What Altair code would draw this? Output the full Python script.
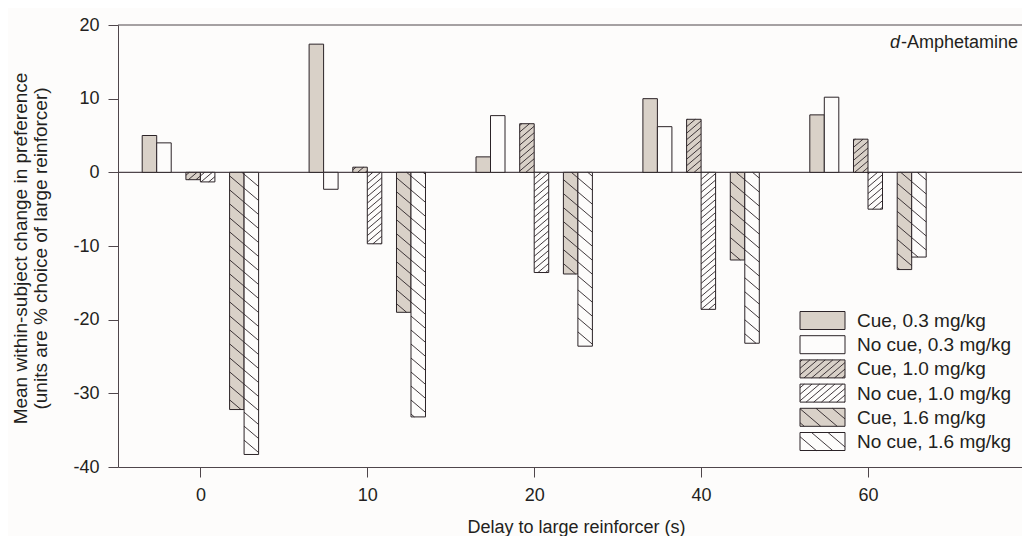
import math
import altair as alt
import pandas as pd

# ---------------- data ----------------
delays = ["0", "10", "20", "40", "60"]
series = ["Cue, 0.3 mg/kg", "No cue, 0.3 mg/kg", "Cue, 1.0 mg/kg",
          "No cue, 1.0 mg/kg", "Cue, 1.6 mg/kg", "No cue, 1.6 mg/kg"]
cue_03 = [5.0, 17.4, 2.1, 10.0, 7.8]
nocue_03 = [4.0, -2.3, 7.7, 6.2, 10.2]
cue_10 = [-1.0, 0.7, 6.6, 7.2, 4.5]
nocue_10 = [-1.3, -9.7, -13.6, -18.6, -5.0]
cue_16 = [-32.2, -19.0, -13.8, -11.9, -13.2]
nocue_16 = [-38.3, -33.2, -23.6, -23.2, -11.5]
y_ticks = [-40, -30, -20, -10, 0, 10, 20]
values = [cue_03, nocue_03, cue_10, nocue_10, cue_16, nocue_16]

# ---------------- layout / style ----------------
W, H = 904, 442
X_DOM = [-0.4937, 4.9227]
Y_DOM = [-40, 20]
BAR_W = 0.0869
PAIR_OFF = 0.2618
FONT = "Liberation Sans"
AX = "#4f464b"
INK = "#2b2327"
TXT = "#231f20"
BG = "#fdfcfb"
CUE_FILL = "#d9d1c8"
NOCUE_FILL = "#fdfcfb"
HATCH = [None, None, ("/", 6.5), ("/", 6.5), ("\\", 14.0), ("\\", 14.0)]
SLOPE = 0.85


def px_x(x):
    return (x - X_DOM[0]) / (X_DOM[1] - X_DOM[0]) * W


def px_y(y):
    return (Y_DOM[1] - y) / (Y_DOM[1] - Y_DOM[0]) * H


def dx(p):
    return X_DOM[0] + p / W * (X_DOM[1] - X_DOM[0])


def dy(p):
    return Y_DOM[1] - p / H * (Y_DOM[1] - Y_DOM[0])


def hatch(a, b, top, bot, kind, sp, s=SLOPE):
    segs = []
    if kind == "/":
        cmin, cmax = s * a + top, s * b + bot
        for k in range(math.ceil(cmin / sp), math.floor(cmax / sp) + 1):
            c = k * sp
            xa = max(a, (c - bot) / s)
            xb = min(b, (c - top) / s)
            if xb - xa > 0.4:
                segs.append((xa, c - s * xa, xb, c - s * xb))
    else:
        cmin, cmax = top - s * b, bot - s * a
        for k in range(math.ceil(cmin / sp), math.floor(cmax / sp) + 1):
            c = k * sp
            xa = max(a, (top - c) / s)
            xb = min(b, (bot - c) / s)
            if xb - xa > 0.4:
                segs.append((xa, c + s * xa, xb, c + s * xb))
    return segs


bars, lines = [], []
for k, name in enumerate(series):
    dose = k // 2
    cue = k % 2 == 0
    for i, d in enumerate(delays):
        v = values[k][i]
        x0 = i + (dose - 1) * PAIR_OFF - (BAR_W if cue else 0.0)
        x1 = x0 + BAR_W
        bars.append({"series": name, "delay": d, "x": x0, "x2": x1,
                     "y": 0.0, "y2": v, "fill": CUE_FILL if cue else NOCUE_FILL})
        if HATCH[k]:
            a, b = px_x(x0), px_x(x1)
            top, bot = min(px_y(0), px_y(v)), max(px_y(0), px_y(v))
            for (xa, ya, xb, yb) in hatch(a, b, top, bot, *HATCH[k]):
                lines.append({"x": dx(xa), "y": dy(ya), "x2": dx(xb), "y2": dy(yb)})

# legend (inside plot, positioned in pixels then mapped through scales)
LEG_X0, LEG_X1, LEG_TOP, LEG_STEP, LEG_H, LEG_TX = 682, 727, 286.5, 24.2, 18, 739
leg_rects, leg_text = [], []
for k, name in enumerate(series):
    top = LEG_TOP + k * LEG_STEP
    bot = top + LEG_H
    leg_rects.append({"x": dx(LEG_X0), "x2": dx(LEG_X1), "y": dy(top), "y2": dy(bot),
                      "fill": CUE_FILL if k % 2 == 0 else NOCUE_FILL})
    leg_text.append({"x": dx(LEG_TX), "y": dy((top + bot) / 2 + 0.5), "label": name})
    if HATCH[k]:
        for (xa, ya, xb, yb) in hatch(LEG_X0, LEG_X1, top, bot, *HATCH[k]):
            lines.append({"x": dx(xa), "y": dy(ya), "x2": dx(xb), "y2": dy(yb)})

xs = alt.Scale(domain=X_DOM, nice=False, zero=False)
ys = alt.Scale(domain=Y_DOM, nice=False, zero=False)
label_js = "[" + ",".join("'%s'" % d for d in delays) + "][datum.value]"
xaxis = alt.Axis(values=list(range(len(delays))), labelExpr=label_js, grid=False,
                 tickSize=10, labelPadding=9, labelFontSize=18, labelFont=FONT,
                 labelColor=TXT, domainColor=AX, tickColor=AX,
                 title="Delay to large reinforcer (s)", titleFont=FONT,
                 titleFontSize=18, titleFontWeight="normal", titleColor=TXT,
                 titleY=65, titleX=458, titleBaseline="alphabetic")
yaxis = alt.Axis(values=y_ticks, grid=False, tickSize=10, labelPadding=9,
                 labelExpr="datum.value < 0 ? '-' + (-datum.value) : '' + datum.value",
                 labelFontSize=18, labelFont=FONT, labelColor=TXT,
                 domainColor=AX, tickColor=AX,
                 title=["Mean within-subject change in preference",
                        "(units are % choice of large reinforcer)"],
                 titleFont=FONT, titleFontSize=19, titleFontWeight="normal",
                 titleColor=TXT, titleX=-107, titleY=H / 2 + 2, titleAngle=-90,
                 titleBaseline="top", titleAlign="center", titleLineHeight=20)


def X(f):
    return alt.X(f, type="quantitative", scale=xs, axis=xaxis)


def Y(f):
    return alt.Y(f, type="quantitative", scale=ys, axis=yaxis)


zero = alt.Chart(pd.DataFrame({"x": [X_DOM[0]], "x2": [X_DOM[1]], "y": [0]})).mark_rule(
    color=AX, strokeWidth=1.2).encode(x=X("x"), x2="x2", y=Y("y"))

bar_layer = alt.Chart(pd.DataFrame(bars)).mark_rect(stroke=INK, strokeWidth=1).encode(
    x=X("x"), x2="x2", y=Y("y"), y2="y2",
    fill=alt.Fill("fill:N", scale=None))

leg_layer = alt.Chart(pd.DataFrame(leg_rects)).mark_rect(stroke=INK, strokeWidth=1).encode(
    x=X("x"), x2="x2", y=Y("y"), y2="y2", fill=alt.Fill("fill:N", scale=None))

hatch_layer = alt.Chart(pd.DataFrame(lines)).mark_rule(color=INK, strokeWidth=0.9).encode(
    x=X("x"), x2="x2", y=Y("y"), y2="y2")

leg_txt = alt.Chart(pd.DataFrame(leg_text)).mark_text(
    align="left", baseline="middle", font=FONT, fontSize=19, color=TXT).encode(
    x=X("x"), y=Y("y"), text="label:N")

top_border = alt.Chart(pd.DataFrame({"a": [0]})).mark_rule(color=AX, strokeWidth=1).encode(
    x=alt.value(0), x2=alt.value(W + 4), y=alt.value(0))

title_d = alt.Chart(pd.DataFrame({"a": [0]})).mark_text(
    text="d", align="right", baseline="alphabetic", font=FONT, fontSize=18,
    fontStyle="italic", color=TXT).encode(x=alt.value(782), y=alt.value(23))
title_rest = alt.Chart(pd.DataFrame({"a": [0]})).mark_text(
    text="-Amphetamine", align="right", baseline="alphabetic", font=FONT, fontSize=18,
    color=TXT).encode(x=alt.value(900), y=alt.value(23))

chart = alt.layer(zero, bar_layer, leg_layer, hatch_layer, leg_txt, top_border,
                  title_d, title_rest).properties(
    width=W, height=H,
    padding={"left": 110, "top": 17, "right": 0, "bottom": 69},
    autosize=alt.AutoSizeParams(type="none"),
    background=BG,
).configure_view(stroke=None)

chart.save("out.html", embed_options={"renderer": "svg", "actions": False})
